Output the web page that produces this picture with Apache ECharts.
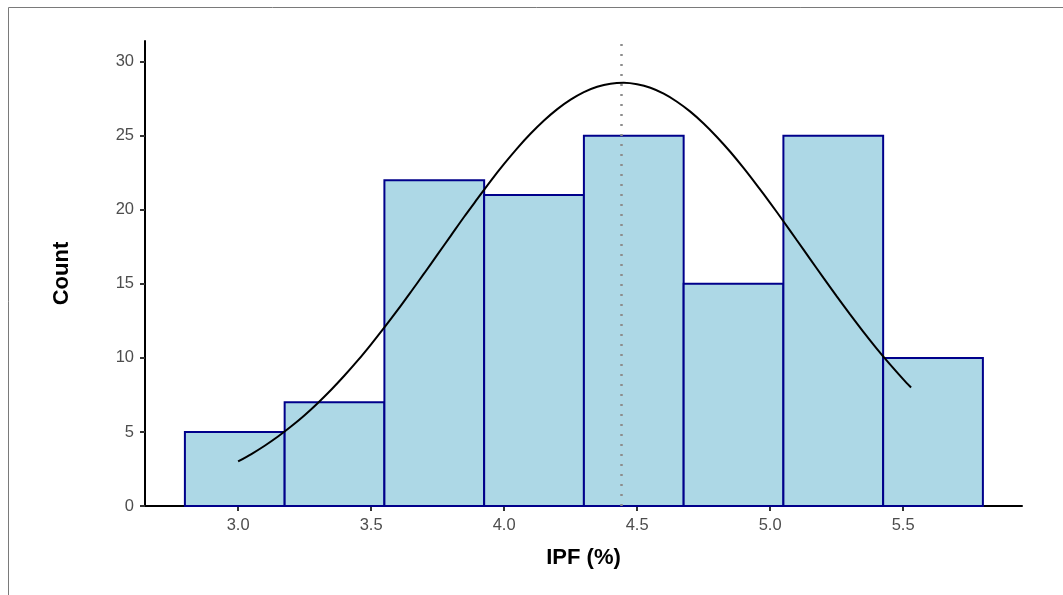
<!DOCTYPE html>
<html>
<head>
<meta charset="utf-8">
<script src="https://cdn.jsdelivr.net/npm/echarts@6/dist/echarts.min.js"></script>
<style>
  html, body { margin: 0; padding: 0; background: #fff; }
  #chart { width: 1063px; height: 595px; }
</style>
</head>
<body>
<div id="chart"></div>
<script>
// Histogram of IPF (%) with fitted normal curve and mean marker
const binStarts = [2.800, 3.175, 3.550, 3.925, 4.300, 4.675, 5.050, 5.425];
const binWidth = 0.375;
const counts = [5, 7, 22, 21, 25, 15, 25, 10];

// Fitted normal curve, read as (x, count) pairs
const curveX = [3.00, 3.05, 3.10, 3.15, 3.20, 3.25, 3.30, 3.35, 3.40, 3.45, 3.50, 3.55, 3.60, 3.65,
                3.70, 3.75, 3.80, 3.85, 3.90, 3.95, 4.00, 4.05, 4.10, 4.15, 4.20, 4.25, 4.30, 4.35,
                4.40, 4.45, 4.50, 4.55, 4.60, 4.65, 4.70, 4.75, 4.80, 4.85, 4.90, 4.95, 5.00, 5.05,
                5.10, 5.15, 5.20, 5.25, 5.30, 5.35, 5.40, 5.45, 5.50, 5.53];
const curveY = [3.01, 3.51, 4.07, 4.69, 5.38, 6.13, 6.96, 7.85, 8.81, 9.83, 10.92, 12.06, 13.24, 14.47,
                15.72, 16.99, 18.26, 19.53, 20.75, 21.96, 23.10, 24.17, 25.15, 26.03, 26.80, 27.44, 27.95, 28.31,
                28.52, 28.58, 28.48, 28.24, 27.84, 27.30, 26.63, 25.83, 24.92, 23.92, 22.83, 21.67, 20.47, 19.23,
                17.96, 16.69, 15.42, 14.17, 12.96, 11.78, 10.65, 9.58, 8.57, 8.00];

const meanValue = 4.444;
const xTicks = [3.0, 3.5, 4.0, 4.5, 5.0, 5.5];
const yTicks = [0, 5, 10, 15, 20, 25, 30];

const barData = binStarts.map((s, i) => [s, s + binWidth, counts[i]]);
const curveData = curveX.map((x, i) => [x, curveY[i]]);

const font = '"Liberation Sans", Arial, Helvetica, sans-serif';
const chart = echarts.init(document.getElementById('chart'), null, { renderer: 'canvas' });

chart.setOption({
  animation: false,
  backgroundColor: '#ffffff',
  graphic: [{
    type: 'rect',
    shape: { x: 8.5, y: 7.5, width: 1200, height: 800 },
    style: { fill: 'none', stroke: '#7a7a7a', lineWidth: 1 },
    silent: true
  }],
  grid: { left: 145, right: 41, top: 41, bottom: 89, containLabel: false },
  xAxis: {
    type: 'value',
    min: 2.65,
    max: 5.947,
    name: 'IPF (%)',
    nameLocation: 'middle',
    nameGap: 41,
    nameTextStyle: { fontFamily: font, fontSize: 22, fontWeight: 'bold', color: '#000' },
    axisLine: { show: true, onZero: false, lineStyle: { color: '#000', width: 2 } },
    axisTick: { show: true, length: 5, customValues: xTicks, lineStyle: { color: '#333', width: 2 } },
    axisLabel: {
      customValues: xTicks,
      formatter: v => v.toFixed(1),
      fontFamily: font, fontSize: 16.5, color: '#4d4d4d', margin: 11
    },
    splitLine: { show: false }
  },
  yAxis: {
    type: 'value',
    min: 0,
    max: 31.4,
    name: 'Count',
    nameLocation: 'middle',
    nameGap: 72,
    nameRotate: 90,
    nameTextStyle: { fontFamily: font, fontSize: 22, fontWeight: 'bold', color: '#000' },
    axisLine: { show: true, lineStyle: { color: '#000', width: 2 } },
    axisTick: { show: true, length: 5, customValues: yTicks, lineStyle: { color: '#333', width: 2 } },
    axisLabel: {
      customValues: yTicks,
      fontFamily: font, fontSize: 16.5, color: '#4d4d4d', margin: 11
    },
    splitLine: { show: false }
  },
  series: [
    {
      type: 'custom',
      data: barData,
      encode: { x: [0, 1], y: 2 },
      z: 2,
      renderItem: function (params, api) {
        const p0 = api.coord([api.value(0), api.value(2)]);
        const p1 = api.coord([api.value(1), 0]);
        return {
          type: 'rect',
          shape: { x: p0[0], y: p0[1], width: p1[0] - p0[0], height: p1[1] - p0[1] },
          style: { fill: '#ADD8E6', stroke: '#00008B', lineWidth: 2 }
        };
      }
    },
    {
      type: 'line',
      data: curveData,
      smooth: 0.3,
      showSymbol: false,
      z: 4,
      lineStyle: { color: '#000', width: 2 },
      markLine: {
        silent: true,
        symbol: ['none', 'none'],
        label: { show: false },
        lineStyle: { color: '#8c8c8c', type: [2, 8], width: 2.5 },
        data: [{ xAxis: meanValue }]
      }
    }
  ]
});
</script>
</body>
</html>
